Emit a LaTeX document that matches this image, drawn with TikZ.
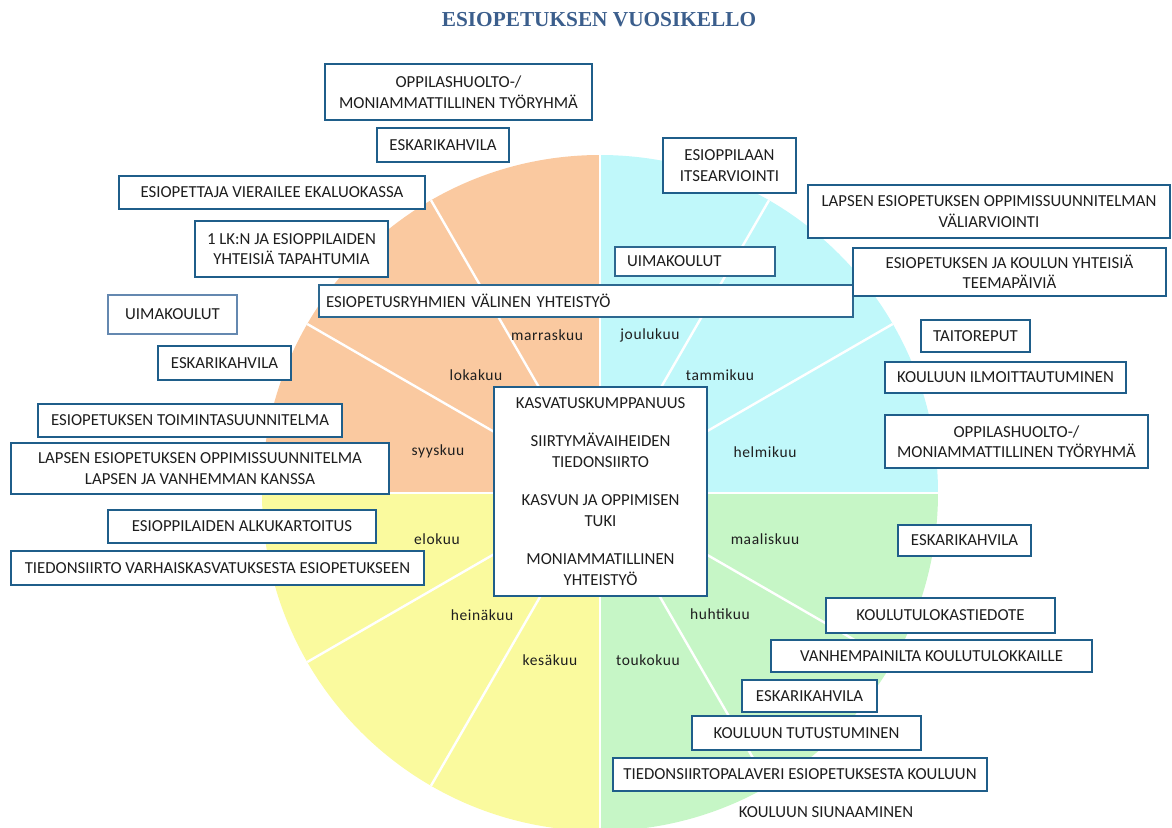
\documentclass[tikz,border=0pt]{standalone}
\usepackage{fontspec}
\setmainfont{Carlito}
\newfontfamily\titlefont{Liberation Serif}
\newfontfamily\monthfont[LetterSpace=4]{Carlito}
\definecolor{peach}{RGB}{250,201,160}
\definecolor{cyanq}{RGB}{192,248,250}
\definecolor{greenq}{RGB}{198,246,198}
\definecolor{yellowq}{RGB}{250,250,158}
\definecolor{bord}{RGB}{31,94,138}
\definecolor{bordlight}{RGB}{100,136,176}
\definecolor{bordthin}{RGB}{45,104,144}
\definecolor{titlec}{RGB}{59,94,140}
\definecolor{txt}{RGB}{30,30,30}
\begin{document}
\begin{tikzpicture}[x=1pt,y=-1pt,
  bx/.style={draw=bord,line width=2.9pt,fill=white,inner sep=0pt,align=center,
    font=\fontsize{16.8}{20.5}\selectfont,text=txt},
  bxlight/.style={bx,draw=bordlight,line width=2.2pt},
  bxthin/.style={bx,draw=bordthin,line width=1.2pt,align=left},
  month/.style={font=\monthfont\fontsize{15.5}{17}\selectfont,text=txt},
  sep/.style={white,line width=2.4pt}]
\useasboundingbox (0,0) rectangle (1172,827);
% pie
\begin{scope}
\clip (0,0) rectangle (1172,827);
\clip (600,493) circle[radius=338];
\fill[peach] (600,493) rectangle (262,155);
\fill[cyanq] (600,493) rectangle (938,155);
\fill[greenq] (600,493) rectangle (938,831);
\fill[yellowq] (600,493) rectangle (262,831);
\foreach \a in {30,60,120,150,210,240,300,330}
  \draw[sep] (600,493) -- ++(\a:340);
\foreach \a in {0,90,180,270}
  \draw[white,line width=1.6pt] (600,493) -- ++(\a:340);
\end{scope}
% title
\node[font=\titlefont\bfseries\fontsize{21.3}{24}\selectfont,text=titlec] (title) at (599,20) {ESIOPETUKSEN VUOSIKELLO};
% months
\node[month] (m11) at (547,335) {marraskuu};
\node[month] (m12) at (650,335) {joulukuu};
\node[month] (m10) at (476,375) {lokakuu};
\node[month] (m1) at (720,375) {tammikuu};
\node[month] (m9) at (438,451) {syyskuu};
\node[month] (m2) at (765,452) {helmikuu};
\node[month] (m8) at (437,539) {elokuu};
\node[month] (m3) at (765,539) {maaliskuu};
\node[month] (m7) at (482,615) {heinäkuu};
\node[month] (m4) at (720,614) {huhtikuu};
\node[month] (m6) at (550,660) {kesäkuu};
\node[month] (m5) at (648,660) {toukokuu};
% left boxes
\node[bx,minimum width=267,minimum height=56] (opp1) at (458.5,92) {OPPILASHUOLTO-/\\MONIAMMATTILLINEN TYÖRYHMÄ};
\node[bx,minimum width=132,minimum height=34] (esk1) at (443,145) {ESKARIKAHVILA};
\node[bx,minimum width=306,minimum height=33] (vier) at (272,192.5) {ESIOPETTAJA VIERAILEE EKALUOKASSA};
\node[bx,minimum width=193,minimum height=56] (lk) at (291.5,249) {1 LK:N JA ESIOPPILAIDEN\\YHTEISIÄ TAPAHTUMIA};
\node[bxlight,minimum width=129,minimum height=39] (uim1) at (172.5,314.5) {UIMAKOULUT};
\node[bxthin,inner xsep=7pt,text width=520pt,minimum height=32] (ryhm) at (586,301) {ESIOPETUSRYHMIEN VÄLINEN YHTEISTYÖ};
\node[bx,minimum width=133,minimum height=34] (esk2) at (224.5,363) {ESKARIKAHVILA};
\node[bx,minimum width=304,minimum height=33] (toim) at (190,420.5) {ESIOPETUKSEN TOIMINTASUUNNITELMA};
\node[bx,minimum width=378,minimum height=51] (lops) at (200,468.5) {LAPSEN ESIOPETUKSEN OPPIMISSUUNNITELMA\\LAPSEN JA VANHEMMAN KANSSA};
\node[bx,minimum width=268,minimum height=33] (alku) at (242,526.5) {ESIOPPILAIDEN ALKUKARTOITUS};
\node[bx,minimum width=413,minimum height=34] (tied) at (217.5,568) {TIEDONSIIRTO VARHAISKASVATUKSESTA ESIOPETUKSEEN};
% center
\node[bx,minimum width=213,minimum height=209] (center) at (600.5,491.5) {KASVATUSKUMPPANUUS\\[18pt]SIIRTYMÄVAIHEIDEN\\TIEDONSIIRTO\\[18pt]KASVUN JA OPPIMISEN\\TUKI\\[18pt]MONIAMMATILLINEN\\YHTEISTYÖ};
% right boxes
\node[bx,minimum width=133,minimum height=55] (itse) at (729.5,165.5) {ESIOPPILAAN\\ITSEARVIOINTI};
\node[bx,minimum width=362,minimum height=53] (vali) at (989,211.5) {LAPSEN ESIOPETUKSEN OPPIMISSUUNNITELMAN\\VÄLIARVIOINTI};
\node[bxthin,inner xsep=12pt,text width=136pt,minimum height=29] (uim2) at (695,261.5) {UIMAKOULUT};
\node[bx,minimum width=313,minimum height=48] (teema) at (1009.5,272) {ESIOPETUKSEN JA KOULUN YHTEISIÄ\\TEEMAPÄIVIÄ};
\node[bx,minimum width=109,minimum height=32] (taito) at (975.5,336) {TAITOREPUT};
\node[bx,minimum width=241,minimum height=31] (ilmo) at (1005.5,377.5) {KOULUUN ILMOITTAUTUMINEN};
\node[bx,minimum width=263,minimum height=53] (opp2) at (1016.5,441.5) {OPPILASHUOLTO-/\\MONIAMMATTILLINEN TYÖRYHMÄ};
\node[bx,minimum width=133,minimum height=31] (esk3) at (964.5,540.5) {ESKARIKAHVILA};
\node[bx,minimum width=229,minimum height=35] (ktied) at (940.5,615.5) {KOULUTULOKASTIEDOTE};
\node[bx,minimum width=321,minimum height=32] (vanh) at (931.5,656) {VANHEMPAINILTA KOULUTULOKKAILLE};
\node[bx,minimum width=135,minimum height=32] (esk4) at (809.5,696) {ESKARIKAHVILA};
\node[bx,minimum width=229,minimum height=34] (tutu) at (806.5,733) {KOULUUN TUTUSTUMINEN};
\node[bx,minimum width=374,minimum height=33] (palav) at (800,774.5) {TIEDONSIIRTOPALAVERI ESIOPETUKSESTA KOULUUN};
\node[font=\fontsize{16.8}{20.5}\selectfont,text=txt] (siun) at (826,812) {KOULUUN SIUNAAMINEN};
\end{tikzpicture}
\end{document}
